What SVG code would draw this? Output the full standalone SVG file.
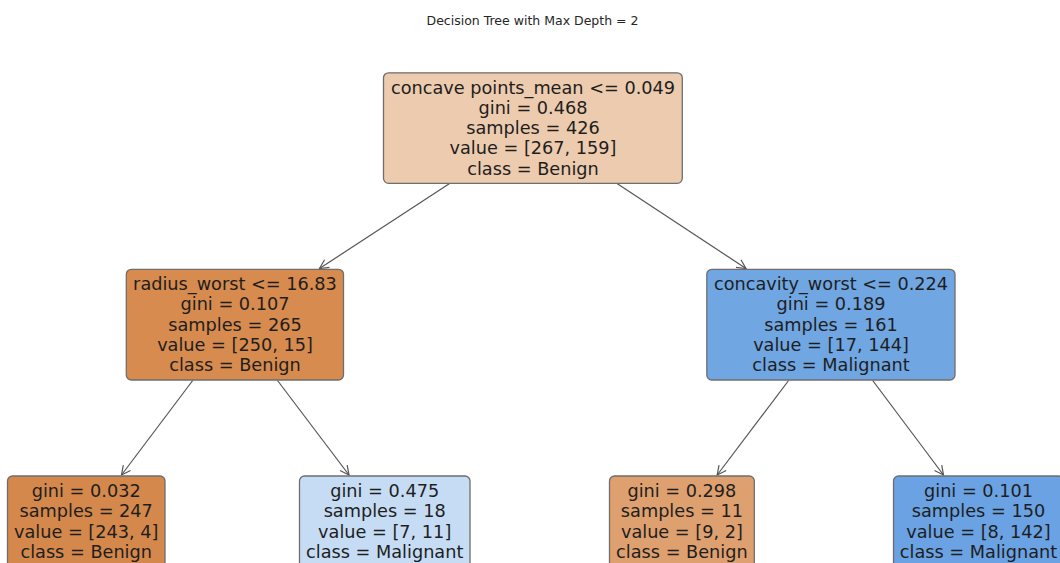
<svg xmlns="http://www.w3.org/2000/svg" width="1060" height="563" viewBox="0 0 1060 563">
  <defs>
    <style>
      .box { stroke: #6e6e6e; stroke-width: 1.3; }
      .t { font-family: "DejaVu Sans", "Liberation Sans", sans-serif; font-size: 17.7px; fill: #1e1e1e; text-anchor: middle; }
      .title { font-family: "DejaVu Sans", "Liberation Sans", sans-serif; font-size: 12.5px; fill: #262626; text-anchor: middle; }
      .edge { stroke: #555555; stroke-width: 1.2; fill: none; marker-end: url(#arr); }
    </style>
    <marker id="arr" viewBox="-12 -6 14 12" markerWidth="14" markerHeight="12" refX="0" refY="0" orient="auto" markerUnits="userSpaceOnUse">
      <path d="M-9,-4.5 L0,0 L-9,4.5" fill="none" stroke="#555555" stroke-width="1.2"/>
    </marker>
  </defs>
  <rect width="1060" height="563" fill="#ffffff"/>
  <text class="title" x="532.5" y="24.5">Decision Tree with Max Depth = 2</text>

  <g id="connectors">
    <line class="edge" x1="449.6" y1="183.5" x2="319.5" y2="268.5"/>
    <line class="edge" x1="617" y1="183.5" x2="746" y2="268.5"/>
    <line class="edge" x1="192.7" y1="380.5" x2="121.5" y2="475"/>
    <line class="edge" x1="277.5" y1="380.5" x2="349" y2="475"/>
    <line class="edge" x1="788.6" y1="380.5" x2="717.2" y2="475"/>
    <line class="edge" x1="872.7" y1="380.5" x2="943.5" y2="475"/>
  </g>

  <g id="node-root">
    <rect class="box" x="383.5" y="72.8" width="298.8" height="110.5" rx="5" fill="#edcbae"/>
    <text class="t" x="533" y="93.5">concave points_mean &lt;= 0.049</text>
    <text class="t" x="533" y="113.8">gini = 0.468</text>
    <text class="t" x="533" y="134.1">samples = 426</text>
    <text class="t" x="533" y="154.4">value = [267, 159]</text>
    <text class="t" x="533" y="174.7">class = Benign</text>
  </g>

  <g id="node-left">
    <rect class="box" x="126.3" y="269.3" width="217.2" height="110.7" rx="5" fill="#d78b4e"/>
    <text class="t" x="235" y="290">radius_worst &lt;= 16.83</text>
    <text class="t" x="235" y="310.3">gini = 0.107</text>
    <text class="t" x="235" y="330.6">samples = 265</text>
    <text class="t" x="235" y="350.9">value = [250, 15]</text>
    <text class="t" x="235" y="371.2">class = Benign</text>
  </g>

  <g id="node-right">
    <rect class="box" x="706.8" y="269.3" width="248.2" height="110.7" rx="5" fill="#70a6e2"/>
    <text class="t" x="831" y="290">concavity_worst &lt;= 0.224</text>
    <text class="t" x="831" y="310.3">gini = 0.189</text>
    <text class="t" x="831" y="330.6">samples = 161</text>
    <text class="t" x="831" y="350.9">value = [17, 144]</text>
    <text class="t" x="831" y="371.2">class = Malignant</text>
  </g>

  <g id="leaf-1">
    <rect class="box" x="7.5" y="476" width="157.5" height="92" rx="5" fill="#d5884b"/>
    <text class="t" x="86.2" y="497">gini = 0.032</text>
    <text class="t" x="86.2" y="517.3">samples = 247</text>
    <text class="t" x="86.2" y="537.6">value = [243, 4]</text>
    <text class="t" x="86.2" y="557.9">class = Benign</text>
  </g>

  <g id="leaf-2">
    <rect class="box" x="299.5" y="476" width="170.5" height="92" rx="5" fill="#c6dcf4"/>
    <text class="t" x="384.7" y="497">gini = 0.475</text>
    <text class="t" x="384.7" y="517.3">samples = 18</text>
    <text class="t" x="384.7" y="537.6">value = [7, 11]</text>
    <text class="t" x="384.7" y="557.9">class = Malignant</text>
  </g>

  <g id="leaf-3">
    <rect class="box" x="609.5" y="476" width="144.8" height="92" rx="5" fill="#dfa06f"/>
    <text class="t" x="681.9" y="497">gini = 0.298</text>
    <text class="t" x="681.9" y="517.3">samples = 11</text>
    <text class="t" x="681.9" y="537.6">value = [9, 2]</text>
    <text class="t" x="681.9" y="557.9">class = Benign</text>
  </g>

  <g id="leaf-4">
    <rect class="box" x="893.5" y="476" width="170" height="92" rx="5" fill="#6aa2e3"/>
    <text class="t" x="978.5" y="497">gini = 0.101</text>
    <text class="t" x="978.5" y="517.3">samples = 150</text>
    <text class="t" x="978.5" y="537.6">value = [8, 142]</text>
    <text class="t" x="978.5" y="557.9">class = Malignant</text>
  </g>
</svg>
